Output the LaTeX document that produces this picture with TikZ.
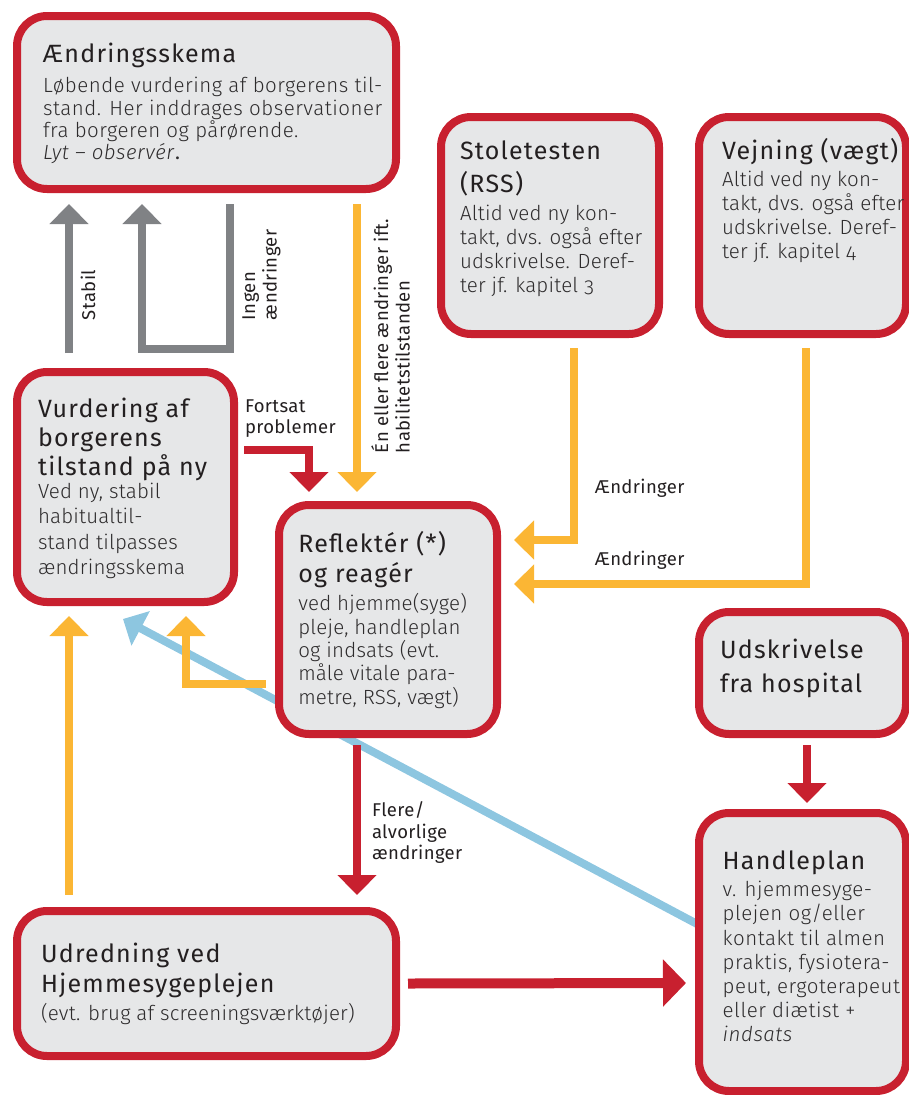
\documentclass[tikz,border=0pt]{standalone}
\usepackage{fontspec}
\setmainfont{Fira Sans}[UprightFont={* Light}, ItalicFont={* Light Italic}, BoldFont={*}, Numbers=OldStyle, LetterSpace=2.5]
\newfontfamily\bodynarrow{Fira Sans}[UprightFont={* Light}, ItalicFont={* Light Italic}, Numbers=OldStyle, LetterSpace=1]
\newfontfamily\titlefont{Fira Sans}[LetterSpace=5]
\newfontfamily\labelfont{Fira Sans}[LetterSpace=2]
\usetikzlibrary{arrows.meta,calc}

\definecolor{boxred}{HTML}{C8202F}
\definecolor{boxfill}{HTML}{E6E7E8}
\definecolor{arrowgray}{HTML}{808285}
\definecolor{arrowyellow}{HTML}{FBB634}
\definecolor{arrowblue}{HTML}{8DC6E0}
\definecolor{ink}{HTML}{231F20}
\definecolor{bodyink}{HTML}{2E2C2D}

% text block whose reference point is the baseline of its first line
\newcommand{\tblk}[1]{\begin{minipage}[t]{420pt}\leavevmode#1\end{minipage}}
\newcommand{\titlesize}[1]{\titlefont\fontsize{25}{#1}\selectfont\color{ink}}
\newcommand{\bodysize}[1]{\fontsize{20.5}{#1}\selectfont\color{bodyink}}

\tikzset{
  box/.style={draw=boxred, line width=8pt, fill=boxfill, rounded corners=30pt,
              inner sep=0pt, outer sep=0pt},
  txt/.style={anchor=base west, inner sep=0pt, outer sep=0pt},
  lbl/.style={anchor=base west, inner sep=0pt, outer sep=0pt, text=ink,
              font=\labelfont\fontsize{18.5}{21.5}\selectfont},
  conn/.style={line width=8pt, line join=miter, line cap=butt,
               -{Triangle[width=38pt,length=20pt]}},
  grayconn/.style={conn, draw=arrowgray},
  yellowconn/.style={conn, draw=arrowyellow},
  redconn/.style={conn, draw=boxred},
  blueconn/.style={conn, draw=arrowblue},
}

\begin{document}
\begin{tikzpicture}[x=1pt, y=-1pt]
\useasboundingbox (0,0) rectangle (908,1095);

% ---------- box positions ----------
\coordinate (Apos) at (206.5,102.5);
\coordinate (Bpos) at (550,225.5);
\coordinate (Cpos) at (802.5,225.5);
\coordinate (Dpos) at (125.5,487);
\coordinate (Epos) at (388,619.5);
\coordinate (Fpos) at (802.5,673);
\coordinate (Gpos) at (802.5,952);
\coordinate (Hpos) at (206.5,983.5);

% the blue return line runs underneath the boxes
\path (Gpos) ++(-103.5,-27) coordinate (blueStart);
\path (Dpos) ++(-2.5,132) coordinate (blueTip);
\draw[blueconn] (blueStart) -- (blueTip);

% ---------- boxes ----------
\node[box, minimum width=379pt, minimum height=173pt] (A) at (Apos) {};
\node[box, minimum width=218pt, minimum height=217pt] (B) at (Bpos) {};
\node[box, minimum width=207pt, minimum height=217pt] (C) at (Cpos) {};
\node[box, minimum width=217pt, minimum height=230pt] (D) at (Dpos) {};
\node[box, minimum width=218pt, minimum height=229pt] (E) at (Epos) {};
\node[box, minimum width=207pt, minimum height=122pt] (F) at (Fpos) {};
\node[box, minimum width=207pt, minimum height=278pt] (G) at (Gpos) {};
\node[box, minimum width=379pt, minimum height=145pt] (H) at (Hpos) {};

% ---------- box texts ----------
\node[txt] (Atitle) at (43,62.3) {\tblk{\titlesize{30}Ændringsskema}};
\node[txt] (Abody) at (43,92.7) {\tblk{\bodysize{22.3}Løbende vurdering af borgerens til-\\
  stand. Her inddrages observationer\\
  fra borgeren og pårørende.\\
  \textit{Lyt – observér}{\labelfont.}}};

\node[txt] (Btitle) at (460,159) {\tblk{\titlesize{33}Stoletesten\\(RSS)}};
\node[txt] (Bbody) at (460,220) {\tblk{\bodysize{24.3}\bodynarrow Altid ved ny kon-\\
  takt, dvs. også efter\\udskrivelse. Deref-\\ter jf. kapitel 3}};

\node[txt] (Ctitle) at (722,159) {\tblk{\titlesize{33}Vejning (vægt)}};
\node[txt] (Cbody) at (722,186) {\tblk{\bodysize{24}\bodynarrow Altid ved ny kon-\\
  takt, dvs. også efter\\udskrivelse. Deref-\\ter jf. kapitel 4}};

\node[txt] (Dtitle) at (38,417) {\tblk{\titlesize{29.3}Vurdering af\\borgerens\\tilstand på ny}};
\node[txt] (Dbody) at (38,498.5) {\tblk{\bodysize{25.3}\bodynarrow Ved ny, stabil\\habitualtil-\\
  stand tilpasses\\ændringsskema}};

\node[txt] (Etitle) at (298.3,552.3) {\tblk{\titlesize{30}Reflektér (*)\\og reagér}};
\node[txt] (Ebody) at (298.3,610.7) {\tblk{\bodysize{23.4}\bodynarrow ved hjemme(syge)\\
  pleje, handleplan\\og indsats (evt.\\måle vitale para-\\metre, RSS, vægt)}};

\node[txt] (Ftitle) at (720,658.3) {\tblk{\titlesize{34.4}Udskrivelse\\fra hospital}};

\node[txt] (Gtitle) at (722.7,869.3) {\tblk{\titlesize{30}Handleplan}};
\node[txt] (Gbody) at (722.7,896.7) {\tblk{\bodysize{24.2}v. hjemmesyge-\\
  plejen og/eller\\kontakt til almen\\praktis, fysiotera-\\
  peut, ergoterapeut\\eller diætist +\\\textit{indsats}}};

\node[txt] (Htitle) at (41,962) {\tblk{\titlesize{30}Udredning ved\\Hjemmesygeplejen}};
\node[txt] (Hbody) at (41,1020) {\tblk{\bodysize{24}\bodynarrow (evt. brug af screeningsværktøjer)}};

% ---------- connectors ----------
% stable: back up to the change schedule
\draw[grayconn] ($(D.north west)+(52,-19)$) -- ($(A.south west)+(52,15)$);
% no changes: loop back
\draw[grayconn] ($(A.south west)+(213,15)$) -- ($(D.north west)+(213,-23)$)
   -- ($(D.north west)+(125,-23)$) -- ($(A.south west)+(125,15)$);
% one or more changes
\draw[yellowconn] ($(A.south west)+(340,15)$) -- ($(E.north west)+(78,-13)$);
% continued problems
\draw[redconn] ($(D.east)+(10,-37.5)$) -| ($(E.north west)+(30,-13)$);
% changes from the chair test and from weighing
\draw[yellowconn] ($(B.south west)+(133,14)$) |- ($(E.east)+(17,-79.5)$);
\draw[yellowconn] ($(C.south west)+(107,14)$) |- ($(E.east)+(17,-35.5)$);
% back to reassessment
\draw[yellowconn] ($(E.west)+(-13,64.5)$) -| ($(D.south west)+(169,14)$);
\draw[yellowconn] ($(H.north west)+(52,-16)$) -- ($(D.south west)+(52,14)$);
% several / serious changes
\draw[redconn] ($(E.south west)+(78,11)$) -- ($(H.north west)+(340,-16)$);
% discharge leads to action plan
\draw[redconn] ($(F.south west)+(108,11)$) -- ($(G.north west)+(108,-10)$);
% investigation leads to action plan
\draw[redconn, line width=10pt, -{Triangle[width=46pt,length=23pt]}]
   ($(H.east)+(12,0)$) -- ($(G.west)+(-13,31)$);

% ---------- connector labels ----------
\node[lbl, rotate=90] (lStabil) at (95,320) {Stabil};
\node[lbl, rotate=90] (lIngen) at (255,320) {\tblk{Ingen\\ændringer}};
\node[lbl, rotate=90] (lFlere) at (388,453) {\tblk{Én eller flere ændringer ift.\\habilitetstilstanden}};
\node[lbl] (lFortsat) at (245,412) {\tblk{Fortsat\\problemer}};
\node[lbl] (lAendr1) at (595,493) {Ændringer};
\node[lbl] (lAendr2) at (595,565) {Ændringer};
\node[lbl] (lAlvor) at (372,816.7) {\tblk{Flere/\\alvorlige\\ændringer}};
\end{tikzpicture}
\end{document}
